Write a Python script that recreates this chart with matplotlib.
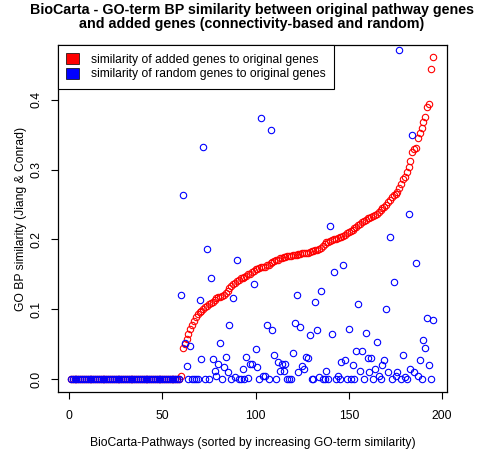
import numpy as np
import matplotlib.pyplot as plt
from matplotlib.patches import Patch

plt.rcParams['font.family'] = ['Liberation Sans', 'DejaVu Sans']

# pathway index 1..195, sorted by similarity of added genes
n_zero = 59
added_tail = [0.005, 0.044, 0.050, 0.057, 0.065, 0.071, 0.077, 0.083, 0.089, 0.093,
              0.096, 0.098, 0.100, 0.103, 0.105, 0.107, 0.109, 0.111, 0.113, 0.116,
              0.117, 0.118, 0.119, 0.121, 0.123, 0.126, 0.130, 0.133, 0.136, 0.138,
              0.140, 0.142, 0.144, 0.145, 0.146, 0.148, 0.150, 0.151, 0.153, 0.155,
              0.157, 0.158, 0.159, 0.160, 0.161, 0.161, 0.163, 0.164, 0.166, 0.167,
              0.169, 0.170, 0.171, 0.173, 0.174, 0.175, 0.175, 0.176, 0.176, 0.176,
              0.177, 0.177, 0.178, 0.179, 0.179, 0.180, 0.180, 0.181, 0.181, 0.182,
              0.183, 0.184, 0.185, 0.185, 0.186, 0.187, 0.190, 0.193, 0.196, 0.197,
              0.198, 0.199, 0.200, 0.201, 0.202, 0.203, 0.204, 0.205, 0.207, 0.209,
              0.210, 0.212, 0.214, 0.216, 0.218, 0.220, 0.222, 0.225, 0.227, 0.228,
              0.230, 0.231, 0.232, 0.233, 0.235, 0.236, 0.239, 0.242, 0.245, 0.247,
              0.250, 0.253, 0.257, 0.261, 0.263, 0.265, 0.268, 0.274, 0.280, 0.287,
              0.290, 0.296, 0.304, 0.312, 0.325, 0.329, 0.331, 0.345, 0.352, 0.360,
              0.368, 0.376, 0.390, 0.394, 0.444, 0.461]
random_tail = [0.120, 0.264, 0.052, 0.019, 0.0, 0.047, 0.0, 0.0, 0.0, 0.0,
               0.113, 0.028, 0.332, 0.0, 0.186, 0.0, 0.144, 0.028, 0.012, 0.005,
               0.022, 0.051, 0.0, 0.017, 0.032, 0.010, 0.078, 0.0, 0.116, 0.003,
               0.171, 0.0, 0.0, 0.015, 0.0, 0.032, 0.002, 0.021, 0.021, 0.136,
               0.043, 0.017, 0.0, 0.374, 0.005, 0.004, 0.077, 0.0, 0.357, 0.070,
               0.034, 0.0, 0.025, 0.011, 0.022, 0.012, 0.021, 0.0, 0.0, 0.0,
               0.037, 0.080, 0.121, 0.010, 0.074, 0.019, 0.015, 0.031, 0.030, 0.063,
               0.0, 0.0, 0.110, 0.070, 0.003, 0.126, 0.0, 0.0, 0.012, 0.0,
               0.219, 0.064, 0.153, 0.0, 0.005, 0.0, 0.025, 0.164, 0.027, 0.0,
               0.071, 0.0, 0.020, 0.0, 0.040, 0.107, 0.012, 0.040, 0.0, 0.066,
               0.030, 0.010, 0.030, 0.0, 0.015, 0.053, 0.005, 0.0, 0.020, 0.027,
               0.101, 0.010, 0.204, 0.0, 0.139, 0.005, 0.010, 0.472, 0.0, 0.035,
               0.003, 0.0, 0.237, 0.015, 0.349, 0.010, 0.166, 0.004, 0.027, 0.0,
               0.056, 0.045, 0.087, 0.020, 0.0, 0.085]

added = np.array([0.0] * n_zero + added_tail)
random_sim = np.array([0.0] * n_zero + random_tail)
idx = np.arange(1, len(added) + 1)

fig = plt.figure(figsize=(4.78, 4.53), dpi=100)
ax = fig.add_axes([58 / 478, 61 / 453, 389 / 478, 347 / 453])

ax.plot(idx, added, 'o', mfc='none', mec='red', ms=4.6, mew=0.8)
ax.plot(idx, random_sim, 'o', mfc='none', mec='blue', ms=4.6, mew=0.8)

ax.set_xlim(-5.9, 202.6)
ax.set_ylim(-0.0186, 0.4785)
ax.set_xticks([0, 50, 100, 150, 200])
ax.set_yticks([0.0, 0.1, 0.2, 0.3, 0.4])
ax.set_yticklabels(['0.0', '0.1', '0.2', '0.3', '0.4'], rotation=90, va='center')
ax.tick_params(direction='out', length=5, width=0.8, labelsize=8.7, pad=6)
ax.tick_params(axis='x', pad=8)
for s in ax.spines.values():
    s.set_linewidth(0.9)

ax.set_xlabel('BioCarta-Pathways (sorted by increasing GO-term similarity)', fontsize=8.7, va='center')
ax.set_ylabel('GO BP similarity (Jiang & Conrad)', fontsize=8.7, va='center')
ax.xaxis.set_label_coords(0.5, -0.147)
ax.yaxis.set_label_coords(-0.095, 0.5)

fig.text(252 / 478, 1 - 17 / 453,
         'BioCarta - GO-term BP similarity between original pathway genes\n'
         'and added genes (connectivity-based and random)',
         ha='center', va='center', fontsize=10.3, fontweight='bold', linespacing=1.05)

handles = [Patch(facecolor='red', edgecolor='black', linewidth=0.5),
           Patch(facecolor='blue', edgecolor='black', linewidth=0.5)]
leg = ax.legend(handles, ['similarity of added genes to original genes',
                          'similarity of random genes to original genes'],
                loc='upper left', bbox_to_anchor=(0, 1), borderaxespad=0,
                fancybox=False, edgecolor='black', fontsize=8.7,
                handlelength=1.0, handleheight=1.0, handletextpad=1.0,
                labelspacing=0.15, borderpad=0.7, framealpha=1)
leg.get_frame().set_linewidth(0.8)

fig.savefig('out.png', dpi=100)
